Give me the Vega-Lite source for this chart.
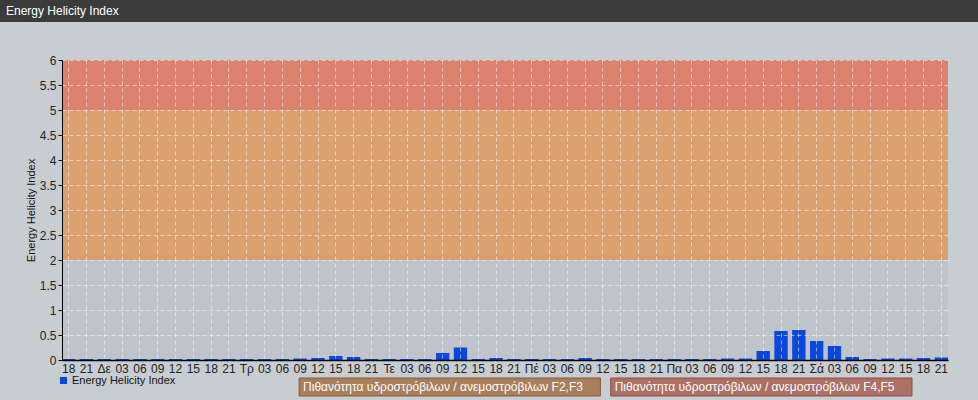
{
  "$schema": "https://vega.github.io/schema/vega-lite/v6.json",
  "background": "#c8cdd2",
  "padding": {"left": 0, "top": 0, "right": 0, "bottom": 4},
  "bounds": "flush",
  "spacing": 18,
  "resolve": {"scale": {"fill": "independent", "stroke": "independent"}},
  "config": {
    "view": {"stroke": null},
    "font": "Liberation Sans",
    "axis": {"labelFont": "Liberation Sans", "titleFont": "Liberation Sans"}
  },
  "datasets": {
    "eh": [
      {"t": "2024-06-02T18:00", "v": 0.02}, {"t": "2024-06-02T21:00", "v": 0.02},
      {"t": "2024-06-03T00:00", "v": 0.02}, {"t": "2024-06-03T03:00", "v": 0.02},
      {"t": "2024-06-03T06:00", "v": 0.02}, {"t": "2024-06-03T09:00", "v": 0.02},
      {"t": "2024-06-03T12:00", "v": 0.02}, {"t": "2024-06-03T15:00", "v": 0.02},
      {"t": "2024-06-03T18:00", "v": 0.02}, {"t": "2024-06-03T21:00", "v": 0.02},
      {"t": "2024-06-04T00:00", "v": 0.02}, {"t": "2024-06-04T03:00", "v": 0.02},
      {"t": "2024-06-04T06:00", "v": 0.02}, {"t": "2024-06-04T09:00", "v": 0.03},
      {"t": "2024-06-04T12:00", "v": 0.04}, {"t": "2024-06-04T15:00", "v": 0.08},
      {"t": "2024-06-04T18:00", "v": 0.06}, {"t": "2024-06-04T21:00", "v": 0.02},
      {"t": "2024-06-05T00:00", "v": 0.02}, {"t": "2024-06-05T03:00", "v": 0.02},
      {"t": "2024-06-05T06:00", "v": 0.02}, {"t": "2024-06-05T09:00", "v": 0.14},
      {"t": "2024-06-05T12:00", "v": 0.25}, {"t": "2024-06-05T15:00", "v": 0.02},
      {"t": "2024-06-05T18:00", "v": 0.04}, {"t": "2024-06-05T21:00", "v": 0.02},
      {"t": "2024-06-06T00:00", "v": 0.02}, {"t": "2024-06-06T03:00", "v": 0.02},
      {"t": "2024-06-06T06:00", "v": 0.02}, {"t": "2024-06-06T09:00", "v": 0.04},
      {"t": "2024-06-06T12:00", "v": 0.02}, {"t": "2024-06-06T15:00", "v": 0.02},
      {"t": "2024-06-06T18:00", "v": 0.02}, {"t": "2024-06-06T21:00", "v": 0.02},
      {"t": "2024-06-07T00:00", "v": 0.02}, {"t": "2024-06-07T03:00", "v": 0.02},
      {"t": "2024-06-07T06:00", "v": 0.02}, {"t": "2024-06-07T09:00", "v": 0.03},
      {"t": "2024-06-07T12:00", "v": 0.03}, {"t": "2024-06-07T15:00", "v": 0.18},
      {"t": "2024-06-07T18:00", "v": 0.58}, {"t": "2024-06-07T21:00", "v": 0.6},
      {"t": "2024-06-08T00:00", "v": 0.38}, {"t": "2024-06-08T03:00", "v": 0.28},
      {"t": "2024-06-08T06:00", "v": 0.06}, {"t": "2024-06-08T09:00", "v": 0.02},
      {"t": "2024-06-08T12:00", "v": 0.03}, {"t": "2024-06-08T15:00", "v": 0.03},
      {"t": "2024-06-08T18:00", "v": 0.04}, {"t": "2024-06-08T21:00", "v": 0.05}
    ],
    "bands": [
      {"band": "F2,F3", "lo": 2, "hi": 5},
      {"band": "F4,F5", "lo": 5, "hi": 6}
    ],
    "boxes": [
      {"label": "Πιθανότητα υδροστρόβιλων / ανεμοστρόβιλων F2,F3", "band": "F2,F3"},
      {"label": "Πιθανότητα υδροστρόβιλων / ανεμοστρόβιλων F4,F5", "band": "F4,F5"}
    ]
  },
  "vconcat": [
    {
      "width": 978,
      "height": 22,
      "view": {"fill": "#3b3b3b", "stroke": null},
      "title": {
        "text": "Energy Helicity Index",
        "anchor": "start",
        "frame": "group",
        "offset": -23,
        "dx": 6,
        "baseline": "middle",
        "color": "#ffffff",
        "fontSize": 12,
        "fontWeight": "normal",
        "font": "Liberation Sans"
      },
      "data": {"values": []},
      "mark": "point"
    },
    {
      "width": 10,
      "height": 2,
      "data": {"values": []},
      "mark": "point"
    },
    {
      "bounds": "flush",
      "spacing": 0,
      "hconcat": [
        {
          "width": 62,
          "height": 300,
          "data": {"values": []},
          "mark": "point"
        },
        {
          "width": 886,
          "height": 300,
          "view": {"fill": "#bec4ca", "stroke": null},
          "layer": [
            {
              "data": {"name": "bands"},
              "mark": {"type": "rect"},
              "encoding": {
                "y": {
                  "field": "lo",
                  "type": "quantitative",
                  "scale": {"domain": [0, 6], "nice": false},
                  "axis": {
                    "title": "Energy Helicity Index",
                    "titleFontSize": 11,
                    "titleFontWeight": "normal",
                    "titleColor": "#111111",
                    "titlePadding": 3,
                    "values": [0, 0.5, 1, 1.5, 2, 2.5, 3, 3.5, 4, 4.5, 5, 5.5, 6],
                    "format": "~g",
                    "labelOverlap": false,
                    "labelFontSize": 12,
                    "labelColor": "#222222",
                    "labelPadding": 2,
                    "tickSize": 4,
                    "tickColor": "#000000",
                    "domainColor": "#000000",
                    "grid": true,
                    "gridColor": "#ffffff",
                    "gridOpacity": 0.5,
                    "gridDash": [4, 3],
                    "zindex": 1
                  }
                },
                "y2": {"field": "hi"},
                "fill": {
                  "field": "band",
                  "type": "nominal",
                  "scale": {"domain": ["F2,F3", "F4,F5"], "range": ["#dba06f", "#dc826f"]},
                  "legend": null
                }
              }
            },
            {
              "data": {"name": "eh"},
              "mark": {"type": "bar"},
              "encoding": {
                "x": {
                  "field": "t",
                  "type": "ordinal",
                  "sort": null,
                  "scale": {"paddingInner": 0.25, "paddingOuter": 0},
                  "axis": {
                    "title": null,
                    "labelExpr": "hours(toDate(datum.value)) == 0 ? ['Κυ','Δε','Τρ','Τε','Πέ','Πα','Σά'][day(toDate(datum.value))] : timeFormat(toDate(datum.value), '%H')",
                    "labelAngle": 0,
                    "labelFontSize": 12,
                    "labelColor": "#222222",
                    "labelPadding": 3,
                    "ticks": false,
                    "domainColor": "#000000",
                    "domainWidth": 1.5,
                    "grid": true,
                    "gridColor": "#ffffff",
                    "gridOpacity": 0.5,
                    "gridDash": [4, 3],
                    "bandPosition": 0.5,
                    "zindex": 1
                  }
                },
                "y": {
                  "field": "v",
                  "type": "quantitative",
                  "scale": {"domain": [0, 6], "nice": false},
                  "axis": {
                    "title": "Energy Helicity Index",
                    "titleFontSize": 11,
                    "titleFontWeight": "normal",
                    "titleColor": "#111111",
                    "titlePadding": 3,
                    "values": [0, 0.5, 1, 1.5, 2, 2.5, 3, 3.5, 4, 4.5, 5, 5.5, 6],
                    "format": "~g",
                    "labelOverlap": false,
                    "labelFontSize": 12,
                    "labelColor": "#222222",
                    "labelPadding": 2,
                    "tickSize": 4,
                    "tickColor": "#000000",
                    "domainColor": "#000000",
                    "grid": true,
                    "gridColor": "#ffffff",
                    "gridOpacity": 0.5,
                    "gridDash": [4, 3],
                    "zindex": 1
                  }
                },
                "color": {
                  "datum": "Energy Helicity Index",
                  "scale": {"range": ["#0948da"]},
                  "legend": {
                    "orient": "none",
                    "legendX": 58,
                    "legendY": 375,
                    "title": null,
                    "padding": 0,
                    "symbolType": "square",
                    "symbolSize": 50,
                    "symbolStrokeWidth": 0,
                    "labelFontSize": 11,
                    "labelColor": "#111111",
                    "labelOffset": 3
                  }
                }
              }
            }
          ]
        }
      ]
    },
    {
      "width": 10,
      "height": 282,
      "data": {"values": []},
      "mark": "point"
    },
    {
      "width": 912,
      "height": 18,
      "data": {"name": "boxes"},
      "layer": [
        {
          "mark": {"type": "rect", "strokeWidth": 1},
          "encoding": {
            "x": {
              "field": "label",
              "type": "nominal",
              "sort": null,
              "scale": {"paddingInner": 0.033, "paddingOuter": 0.48, "align": 1},
              "axis": null
            },
            "fill": {
              "field": "band",
              "type": "nominal",
              "scale": {"domain": ["F2,F3", "F4,F5"], "range": ["#a87e5c", "#ad7064"]},
              "legend": null
            },
            "stroke": {
              "field": "band",
              "type": "nominal",
              "scale": {"domain": ["F2,F3", "F4,F5"], "range": ["#7e5c40", "#8a4e44"]},
              "legend": null
            }
          }
        },
        {
          "mark": {"type": "text", "align": "left", "dx": 4, "color": "#ffffff", "fontSize": 12},
          "encoding": {
            "x": {"field": "label", "type": "nominal", "sort": null, "bandPosition": 0, "axis": null},
            "text": {"field": "label"}
          }
        }
      ]
    }
  ]
}
